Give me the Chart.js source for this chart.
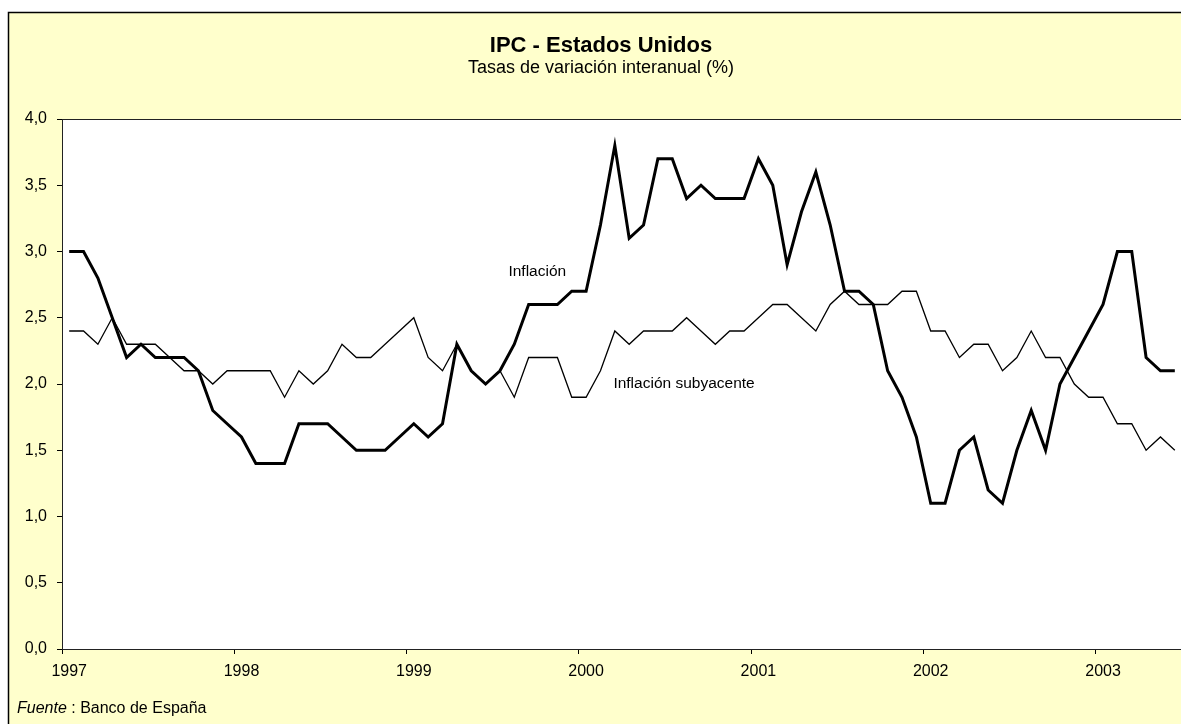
<!DOCTYPE html>
<html>
<head>
<meta charset="utf-8">
<script src="https://cdn.jsdelivr.net/npm/chart.js@4.4.1/dist/chart.umd.min.js"></script>
<style>
html, body { margin: 0; padding: 0; overflow: hidden; background: #fff; }
canvas { display: block; }
</style>
</head>
<body>
<canvas id="graficaIPC" width="1200" height="724"></canvas>
<script>
var anios = ['1997', '1998', '1999', '2000', '2001', '2002', '2003'];
var totalMeses = 78; // ene 1997 - jun 2003
var ticksY = ['0,0', '0,5', '1,0', '1,5', '2,0', '2,5', '3,0', '3,5', '4,0'];

var inflacion = [
    3.0, 3.0, 2.8, 2.5, 2.2, 2.3, 2.2, 2.2, 2.2, 2.1, 1.8, 1.7,
    1.6, 1.4, 1.4, 1.4, 1.7, 1.7, 1.7, 1.6, 1.5, 1.5, 1.5, 1.6,
    1.7, 1.6, 1.7, 2.3, 2.1, 2.0, 2.1, 2.3, 2.6, 2.6, 2.6, 2.7,
    2.7, 3.2, 3.8, 3.1, 3.2, 3.7, 3.7, 3.4, 3.5, 3.4, 3.4, 3.4,
    3.7, 3.5, 2.9, 3.3, 3.6, 3.2, 2.7, 2.7, 2.6, 2.1, 1.9, 1.6,
    1.1, 1.1, 1.5, 1.6, 1.2, 1.1, 1.5, 1.8, 1.5, 2.0, 2.2, 2.4,
    2.6, 3.0, 3.0, 2.2, 2.1, 2.1
];
var subyacente = [
    2.4, 2.4, 2.3, 2.5, 2.3, 2.3, 2.3, 2.2, 2.1, 2.1, 2.0, 2.1,
    2.1, 2.1, 2.1, 1.9, 2.1, 2.0, 2.1, 2.3, 2.2, 2.2, 2.3, 2.4,
    2.5, 2.2, 2.1, 2.3, 2.1, 2.0, 2.1, 1.9, 2.2, 2.2, 2.2, 1.9,
    1.9, 2.1, 2.4, 2.3, 2.4, 2.4, 2.4, 2.5, 2.4, 2.3, 2.4, 2.4,
    2.5, 2.6, 2.6, 2.5, 2.4, 2.6, 2.7, 2.6, 2.6, 2.6, 2.7, 2.7,
    2.4, 2.4, 2.2, 2.3, 2.3, 2.1, 2.2, 2.4, 2.2, 2.2, 2.0, 1.9,
    1.9, 1.7, 1.7, 1.5, 1.6, 1.5
];

var etiquetas = [];
for (var i = 0; i < totalMeses; i++) {
    etiquetas.push(anios[Math.floor(i / 12)] + '-' + String(i % 12 + 1).padStart(2, '0'));
}

var fuente = 'Liberation Sans, Arial, Helvetica, sans-serif';

var fondo = {
    id: 'fondo',
    beforeDraw: function (chart) {
        var c = chart.ctx, a = chart.chartArea;
        c.save();
        c.fillStyle = '#ffffff';
        c.fillRect(0, 0, chart.width, chart.height);
        c.fillStyle = '#FFFFCC';
        c.fillRect(8, 12, 1186, 730);
        c.strokeStyle = '#000';
        c.lineWidth = 1.5;
        c.strokeRect(8.5, 12.5, 1186, 730);
        c.fillStyle = '#ffffff';
        c.fillRect(a.left, a.top, a.right - a.left, a.bottom - a.top);
        c.restore();
    },
    afterDraw: function (chart) {
        var c = chart.ctx, a = chart.chartArea;
        var x = chart.scales.x, y = chart.scales.y;
        c.save();
        c.strokeStyle = '#222';
        c.lineWidth = 1;
        c.strokeRect(a.left + 0.5, a.top + 0.5, a.right - a.left, a.bottom - a.top);

        c.fillStyle = '#000';
        c.textAlign = 'center';
        c.textBaseline = 'middle';
        c.font = 'bold 22px ' + fuente;
        c.fillText('IPC - Estados Unidos', 601, 46);
        c.font = '18px ' + fuente;
        c.fillText('Tasas de variación interanual (%)', 601, 68);

        // etiquetas de las series
        c.font = '15.5px ' + fuente;
        c.fillText('Inflación', x.getPixelForValue(32.6), y.getPixelForValue(2.85));
        c.textAlign = 'left';
        c.fillText('Inflación subyacente', x.getPixelForValue(37.9), y.getPixelForValue(2.0));

        // nota de fuente
        c.font = 'italic 16px ' + fuente;
        c.fillText('Fuente', 17, 709);
        var w = c.measureText('Fuente').width;
        c.font = '16px ' + fuente;
        c.fillText(' : Banco de España', 17 + w, 709);
        c.restore();
    }
};

var ctx = document.getElementById('graficaIPC').getContext('2d');
var chart = new Chart(ctx, {
    type: 'line',
    data: {
        labels: etiquetas,
        datasets: [
            {
                label: 'Inflación',
                data: inflacion,
                borderColor: '#000',
                borderWidth: 3,
                pointRadius: 0,
                tension: 0,
                fill: false
            },
            {
                label: 'Inflación subyacente',
                data: subyacente,
                borderColor: '#000',
                borderWidth: 1.3,
                pointRadius: 0,
                tension: 0,
                fill: false
            }
        ]
    },
    options: {
        responsive: false,
        animation: false,
        events: [],
        layout: {
            padding: { left: 0, top: 119, right: 18, bottom: 0 }
        },
        scales: {
            x: {
                type: 'category',
                offset: true,
                grid: {
                    offset: true,
                    drawOnChartArea: false,
                    tickLength: 5,
                    color: function (c) { return c.index % 12 === 0 ? '#000' : 'rgba(0,0,0,0)'; }
                },
                border: { display: true, color: '#000', width: 1 },
                ticks: {
                    autoSkip: false,
                    maxRotation: 0,
                    padding: 8,
                    color: '#000',
                    font: { family: fuente, size: 16 },
                    callback: function (v, i) { return i % 12 === 0 ? anios[i / 12] : ''; }
                },
                afterFit: function (s) { s.height = 724 - 649; }
            },
            y: {
                min: 0,
                max: 4,
                grid: {
                    drawOnChartArea: false,
                    tickLength: 5,
                    color: '#000'
                },
                border: { display: true, color: '#000', width: 1 },
                ticks: {
                    stepSize: 0.5,
                    padding: 10,
                    color: '#000',
                    font: { family: fuente, size: 16 },
                    callback: function (v) { return ticksY[Math.round(v * 2)]; }
                },
                afterFit: function (s) { s.width = 62; }
            }
        },
        plugins: {
            legend: { display: false },
            tooltip: { enabled: false }
        }
    },
    plugins: [fondo]
});
</script>
</body>
</html>
